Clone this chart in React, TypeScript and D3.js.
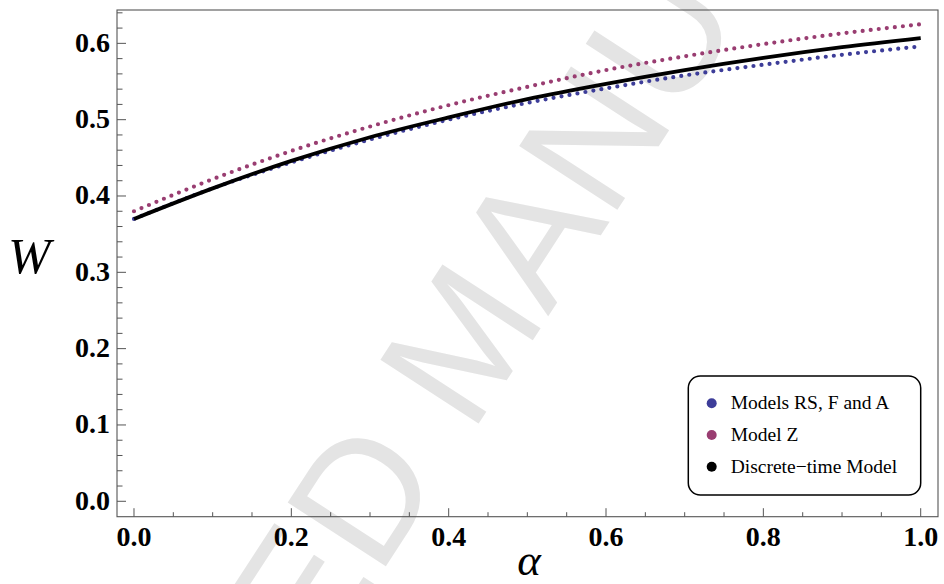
import React from "react";
import * as d3 from "d3";

// ---- data ----
const alphas = [0, 0.1, 0.2, 0.3, 0.4, 0.5, 0.6, 0.7, 0.8, 0.9, 1.0];
const modelsRSFA = [0.370, 0.410, 0.444, 0.474, 0.500, 0.522, 0.541, 0.558, 0.572, 0.585, 0.596];
const modelZ = [0.380, 0.422, 0.459, 0.491, 0.519, 0.543, 0.565, 0.583, 0.599, 0.613, 0.625];
const discreteTime = [0.370, 0.410, 0.446, 0.477, 0.503, 0.527, 0.547, 0.565, 0.581, 0.595, 0.607];

const xMajorTicks = ["0.0", "0.2", "0.4", "0.6", "0.8", "1.0"];
const yMajorTicks = ["0.0", "0.1", "0.2", "0.3", "0.4", "0.5", "0.6"];
const legendLabels = ["Models RS, F and A", "Model Z", "Discrete\u2212time Model"];
const seriesColors = ["#3d3d99", "#993d71", "#000000"];

const W = 944;
const H = 584;
const frame = { left: 117, right: 938, top: 10, bottom: 516.7 };

export default function App() {
  const x = d3.scaleLinear().domain([-0.0216, 1.022]).range([frame.left, frame.right]);
  const y = d3.scaleLinear().domain([-0.0202, 0.6437]).range([frame.bottom, frame.top]);

  const mk = (vals: number[]) =>
    d3
      .line<number>()
      .x((_, i) => x(alphas[i]))
      .y((v) => y(v))
      .curve(d3.curveMonotoneX)(vals) as string;

  const yMinor = d3.range(0, 33).map((i) => ({ v: i * 0.02, major: i % 5 === 0 }));
  const xMinor = d3.range(0, 21).map((i) => ({ v: i * 0.05, major: i % 4 === 0 }));
  const frameColor = "#555";
  const serif = "'Liberation Serif', 'Times New Roman', serif";

  return (
    <svg
      width={W}
      height={H}
      viewBox={`0 0 ${W} ${H}`}
      style={{ position: "absolute", left: 0, top: 0, background: "#fff" }}
    >
      <rect x={0} y={0} width={W} height={H} fill="#fff" />
      {/* watermark */}
      <text
        x={512}
        y={372}
        transform="rotate(-57 512 372)"
        textAnchor="middle"
        fontFamily="'Liberation Sans', Arial, sans-serif"
        fontSize={170}
        fill="#e4e4e4"
      >
        ACCEPTED MANUSCRIPT
      </text>

      {/* frame */}
      <rect
        x={frame.left}
        y={frame.top}
        width={frame.right - frame.left}
        height={frame.bottom - frame.top}
        fill="none"
        stroke={frameColor}
        strokeWidth={1.1}
      />
      {/* y ticks */}
      {yMinor.map((t, i) => (
        <line
          key={"y" + i}
          x1={frame.left}
          x2={frame.left + (t.major ? 9 : 5.5)}
          y1={y(t.v)}
          y2={y(t.v)}
          stroke={frameColor}
          strokeWidth={1}
        />
      ))}
      {/* x ticks */}
      {xMinor.map((t, i) => (
        <line
          key={"x" + i}
          x1={x(t.v)}
          x2={x(t.v)}
          y1={frame.bottom}
          y2={frame.bottom - (t.major ? 8.5 : 4.5)}
          stroke={frameColor}
          strokeWidth={1}
        />
      ))}
      {/* tick labels */}
      {yMajorTicks.map((lbl) => (
        <text
          key={"yl" + lbl}
          x={110}
          y={y(+lbl) + 8.4}
          textAnchor="end"
          fontFamily={serif}
          fontWeight="bold"
          fontSize={28}
          fill="#000"
        >
          {lbl}
        </text>
      ))}
      {xMajorTicks.map((lbl) => (
        <text
          key={"xl" + lbl}
          x={x(+lbl)}
          y={545.7}
          textAnchor="middle"
          fontFamily={serif}
          fontWeight="bold"
          fontSize={28}
          fill="#000"
        >
          {lbl}
        </text>
      ))}
      {/* axis labels */}
      <text x={8} y={272.7} fontFamily={serif} fontStyle="italic" fontSize={51} fill="#000">
        W
      </text>
      <text x={529} y={575} textAnchor="middle" fontFamily={serif} fontStyle="italic" fontSize={45} fill="#000">
        {"\u03B1"}
      </text>

      {/* curves */}
      <path
        d={mk(modelsRSFA)}
        fill="none"
        stroke={seriesColors[0]}
        strokeWidth={4.2}
        strokeDasharray="0 8.1"
        strokeLinecap="round"
      />
      <path
        d={mk(modelZ)}
        fill="none"
        stroke={seriesColors[1]}
        strokeWidth={4.2}
        strokeDasharray="0 8.1"
        strokeLinecap="round"
      />
      <path d={mk(discreteTime)} fill="none" stroke={seriesColors[2]} strokeWidth={3.8} />

      {/* legend */}
      <rect x={688.3} y={376} width={232.4} height={119} rx={12} ry={12} fill="#fff" stroke="#000" strokeWidth={1.5} />
      {legendLabels.map((lbl, i) => {
        const cy = 403.3 + i * 31.7;
        return (
          <g key={lbl}>
            <circle cx={711.7} cy={cy} r={5} fill={seriesColors[i]} />
            <text x={730.7} y={cy + 6} fontFamily={serif} fontSize={19.5} fill="#000">
              {lbl}
            </text>
          </g>
        );
      })}
    </svg>
  );
}
